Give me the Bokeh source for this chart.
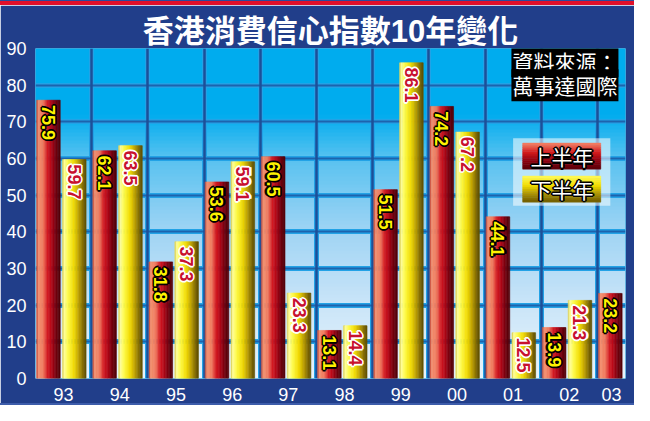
import numpy as np
from bokeh.plotting import figure
from bokeh.layouts import column
from bokeh.models import Range1d, FixedTicker, Grid, Label, ColumnDataSource, Div
from bokeh.core.properties import value
from bokeh.embed import file_html
from bokeh.resources import INLINE

# ---------------- data ----------------
years = ["93", "94", "95", "96", "97", "98", "99", "00", "01", "02", "03"]
first_half = [75.9, 62.1, 31.8, 53.6, 60.5, 13.1, 51.5, 74.2, 44.1, 13.9, 23.2]
second_half = [59.7, 63.5, 37.3, 59.1, 23.3, 14.4, 86.1, 67.2, 12.5, 21.3]
y_ticks = [0, 10, 20, 30, 40, 50, 60, 70, 80, 90]
title_text = "香港消費信心指數10年變化"
source_lines = ["資料來源：", "萬事達國際"]
legend_labels = ["上半年", "下半年"]

# ---------------- styling helpers ----------------
NAVY = "#213e8a"
W = 0.42
RED_C, YEL_C = 0.23, 0.69
OFFS = [(-1.2, 0), (1.2, 0), (0, -1.2), (0, 1.2)]


def lerp(stops, t):
    for (t0, c0), (t1, c1) in zip(stops[:-1], stops[1:]):
        if t0 <= t <= t1:
            f = (t - t0) / (t1 - t0) if t1 > t0 else 0
            return tuple(int(round(a + (b - a) * f)) for a, b in zip(c0, c1))
    return stops[-1][1]


def hexc(c):
    return "#%02x%02x%02x" % c


red_stops = [(0, (175, 45, 40)), (0.07, (244, 148, 115)), (0.3, (240, 120, 92)),
             (0.46, (214, 30, 36)), (0.62, (185, 8, 24)), (0.82, (118, 0, 14)), (1.0, (78, 0, 8))]
yel_stops = [(0, (205, 185, 40)), (0.07, (255, 255, 165)), (0.25, (255, 250, 70)),
             (0.5, (242, 218, 0)), (0.7, (190, 160, 0)), (0.9, (122, 100, 0)), (1.0, (92, 76, 0))]

p = figure(width=634, height=398, output_backend="svg", toolbar_location=None,
           x_range=Range1d(0, 10.5), y_range=Range1d(0, 90),
           min_border_left=35, min_border_right=9, min_border_top=43, min_border_bottom=21)
p.border_fill_color = NAVY
p.background_fill_color = "#00acee"
p.outline_line_color = None
p.xgrid.grid_line_color = None
p.ygrid.grid_line_color = None

# title
p.title.text = title_text
p.title.align = "center"
p.title.text_font = "Liberation Sans, Noto Sans CJK TC"
p.title.text_font_style = "bold"
p.title.text_font_size = "31px"
p.title.text_color = "white"
p.title.offset = -13
p.title.standoff = 0

# background gradient of the plot area
M = 90
img = np.empty((M, 1), dtype=np.uint32)
view = img.view(dtype=np.uint8).reshape((M, 1, 4))
bg_stops = [(0, (232, 244, 252)), (20, (202, 229, 248)), (40, (160, 212, 244)),
            (60, (88, 194, 240)), (72, (0, 172, 238)), (90, (0, 172, 238))]
for i in range(M):
    r, g, b = lerp(bg_stops, i + 0.5)
    view[i, 0] = (r, g, b, 255)
p.image_rgba(image=[img], x=0, y=0, dw=10.5, dh=90, level="image")

# grid lines (halo + core)
hticks = FixedTicker(ticks=y_ticks[1:])
vticks = FixedTicker(ticks=list(range(0, 11)))
p.add_layout(Grid(dimension=1, ticker=hticks, grid_line_color="#22a2e6", grid_line_width=5))
p.add_layout(Grid(dimension=0, ticker=vticks, grid_line_color="#22a2e6", grid_line_width=5))
p.add_layout(Grid(dimension=1, ticker=hticks, grid_line_color="#1d63ad", grid_line_width=2))
p.add_layout(Grid(dimension=0, ticker=vticks, grid_line_color="#1d4f98", grid_line_width=2.5))

# bars as shaded cylinders
N = 16
x1 = np.arange(len(first_half)) + RED_C
x2 = np.arange(len(second_half)) + YEL_C
for k in range(N):
    t = (k + 0.5) / N
    off = -W / 2 + (k + 0.5) * W / N
    c1 = hexc(lerp(red_stops, t))
    c2 = hexc(lerp(yel_stops, t))
    p.vbar(x=x1 + off, top=first_half, bottom=0, width=W / N, fill_color=c1, line_color=c1, line_width=0.6)
    p.vbar(x=x2 + off, top=second_half, bottom=0, width=W / N, fill_color=c2, line_color=c2, line_width=0.6)

# value labels (vertical): outline copies underneath, fill layer on top
s1 = ColumnDataSource(dict(x=x1, y=np.array(first_half) - 1.3, t=["%.1f" % v for v in first_half]))
s2 = ColumnDataSource(dict(x=x2, y=np.array(second_half) - 1.3, t=["%.1f" % v for v in second_half]))
common = dict(x="x", y="y", text="t", angle=-np.pi / 2, text_align="left", text_baseline="middle",
              text_font=value("Liberation Sans"), text_font_style="bold", text_font_size="18px")
for src, fill, outl in ((s1, "#fff200", "black"), (s2, "#c8102e", "white")):
    for dx, dy in OFFS:
        p.text(source=src, text_color=outl, text_outline_color=outl, x_offset=dx, y_offset=dy, **common)
    p.text(source=src, text_color=fill, **common)

# legend box
p.quad(left=8.50, right=10.23, bottom=47.1, top=65.5, fill_color="white", fill_alpha=0.55, line_color=None)
K = 12
lr = [(0, (244, 135, 105)), (0.35, (215, 30, 30)), (0.7, (140, 0, 15)), (1.0, (90, 0, 10))]
ly = [(0, (255, 250, 90)), (0.35, (245, 225, 0)), (0.7, (170, 145, 0)), (1.0, (110, 90, 0))]
for k in range(K):
    t = (k + 0.5) / K
    h = (64.2 - 57.1) / K
    c = hexc(lerp(lr, t))
    p.quad(left=8.67, right=10.06, top=64.2 - k * h, bottom=64.2 - (k + 1) * h, fill_color=c, line_color=c, line_width=0.5)
    h2 = (55.2 - 48.1) / K
    c = hexc(lerp(ly, t))
    p.quad(left=8.67, right=10.06, top=55.2 - k * h2, bottom=55.2 - (k + 1) * h2, fill_color=c, line_color=c, line_width=0.5)
for lab, yy in zip(legend_labels, [60.6, 51.7]):
    kw = dict(x=9.37, y=yy, text=lab, text_align="center", text_baseline="middle",
              text_font="Noto Sans CJK TC", text_font_size="21px")
    for dx, dy in OFFS:
        p.add_layout(Label(text_color="black", text_outline_color="black", x_offset=dx, y_offset=dy, **kw))
    p.add_layout(Label(text_color="white", **kw))

# source note
for line, yy in zip(source_lines, [86.5, 80.0]):
    p.add_layout(Label(x=8.47, y=yy, text=line, text_align="left", text_baseline="middle",
                       text_font="Noto Sans CJK TC", text_font_size="21px", text_color="white",
                       background_fill_color="black", padding=1))

# axes
p.yaxis.ticker = FixedTicker(ticks=y_ticks)
xt = [i + 0.5 for i in range(10)] + [10.25]
p.xaxis.ticker = FixedTicker(ticks=xt)
p.xaxis.major_label_overrides = {t: y for t, y in zip(xt, years)}
for ax in (p.xaxis, p.yaxis):
    ax.axis_line_color = None
    ax.major_tick_line_color = None
    ax.minor_tick_line_color = None
    ax.major_label_text_color = "white"
    ax.major_label_text_font = "Liberation Sans"
    ax.major_label_text_font_size = "18px"
p.yaxis.major_label_standoff = 3
p.xaxis.major_label_standoff = 3

# decorative top red strip and bottom light edge
top_strip = Div(text="", width=634, height=5, margin=0,
                styles={"background": "linear-gradient(#2b4c9b 0px, #2b4c9b 1px, #e0102a 1px, #e0102a 5px)"})
bottom_strip = Div(text="", width=634, height=2, margin=0, styles={"background": "#3d5caa"})
layout = column(top_strip, p, bottom_strip, spacing=0)

open("out.html", "w").write(file_html(layout, INLINE))
